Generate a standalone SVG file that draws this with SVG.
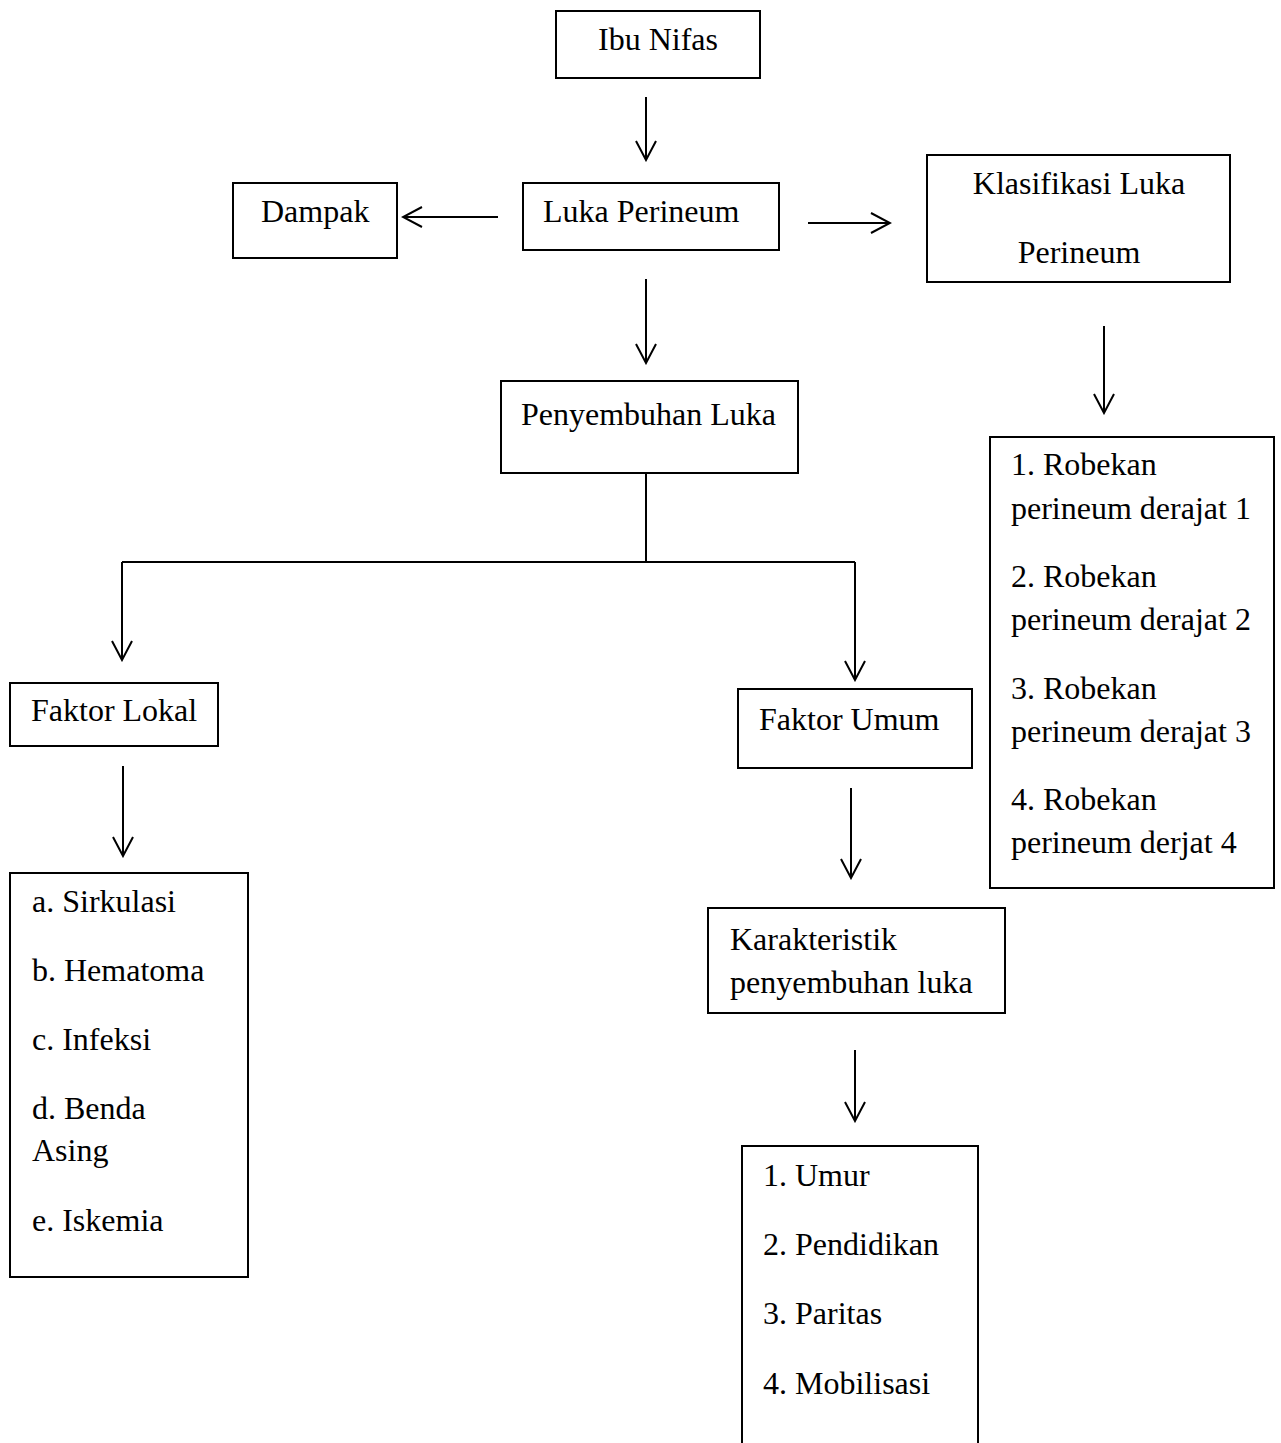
<svg xmlns="http://www.w3.org/2000/svg" width="1281" height="1443" viewBox="0 0 1281 1443">
<style>
.box{fill:#fff;stroke:#000;stroke-width:2}
.t{font-family:"Liberation Serif","Times New Roman",serif;font-size:32px;fill:#000}
.c{stroke:#000;stroke-width:2;fill:none}
</style>
<defs>
<marker id="ah" viewBox="0 0 22 22" refX="20" refY="11" markerWidth="22" markerHeight="22" markerUnits="userSpaceOnUse" orient="auto">
<path d="M1,1 L20,11 L1,21" fill="none" stroke="#000" stroke-width="2"/>
</marker>
</defs>
<rect width="1281" height="1443" fill="#fff"/>
<g id="connectors">
<line class="c" x1="646" y1="97" x2="646" y2="160" marker-end="url(#ah)"/>
<line class="c" x1="498" y1="217" x2="403" y2="217" marker-end="url(#ah)"/>
<line class="c" x1="808" y1="223" x2="890" y2="223" marker-end="url(#ah)"/>
<line class="c" x1="1104" y1="326" x2="1104" y2="413" marker-end="url(#ah)"/>
<line class="c" x1="646" y1="279" x2="646" y2="363" marker-end="url(#ah)"/>
<polyline class="c" points="646,473 646,562"/>
<polyline class="c" points="122,562 855,562"/>
<line class="c" x1="122" y1="562" x2="122" y2="660" marker-end="url(#ah)"/>
<line class="c" x1="855" y1="562" x2="855" y2="680" marker-end="url(#ah)"/>
<line class="c" x1="123" y1="766" x2="123" y2="856" marker-end="url(#ah)"/>
<line class="c" x1="851" y1="788" x2="851" y2="878" marker-end="url(#ah)"/>
<line class="c" x1="855" y1="1050" x2="855" y2="1121" marker-end="url(#ah)"/>
</g>
<g id="ibu-nifas"><rect class="box" x="556" y="11" width="204" height="67"/><text class="t" x="658" y="50" text-anchor="middle">Ibu Nifas</text></g>
<g id="luka-perineum"><rect class="box" x="523" y="183" width="256" height="67"/><text class="t" x="543" y="222">Luka Perineum</text></g>
<g id="dampak"><rect class="box" x="233" y="183" width="164" height="75"/><text class="t" x="261" y="222">Dampak</text></g>
<g id="klasifikasi"><rect class="box" x="927" y="155" width="303" height="127"/><text class="t" x="1079" y="194" text-anchor="middle">Klasifikasi Luka</text><text class="t" x="1079" y="263" text-anchor="middle">Perineum</text></g>
<g id="robekan"><rect class="box" x="990" y="437" width="284" height="451"/>
<text class="t" x="1011" y="475">1. Robekan</text><text class="t" x="1011" y="519">perineum derajat 1</text>
<text class="t" x="1011" y="587">2. Robekan</text><text class="t" x="1011" y="630">perineum derajat 2</text>
<text class="t" x="1011" y="699">3. Robekan</text><text class="t" x="1011" y="742">perineum derajat 3</text>
<text class="t" x="1011" y="810">4. Robekan</text><text class="t" x="1011" y="853">perineum derjat 4</text></g>
<g id="penyembuhan"><rect class="box" x="501" y="381" width="297" height="92"/><text class="t" x="521" y="425">Penyembuhan Luka</text></g>
<g id="faktor-lokal"><rect class="box" x="10" y="683" width="208" height="63"/><text class="t" x="31" y="721">Faktor Lokal</text></g>
<g id="lokal-list"><rect class="box" x="10" y="873" width="238" height="404"/>
<text class="t" x="32" y="912">a. Sirkulasi</text><text class="t" x="32" y="981">b. Hematoma</text><text class="t" x="32" y="1050">c. Infeksi</text><text class="t" x="32" y="1119">d. Benda</text><text class="t" x="32" y="1161">Asing</text><text class="t" x="32" y="1231">e. Iskemia</text></g>
<g id="faktor-umum"><rect class="box" x="738" y="689" width="234" height="79"/><text class="t" x="759" y="730">Faktor Umum</text></g>
<g id="karakteristik"><rect class="box" x="708" y="908" width="297" height="105"/><text class="t" x="730" y="950">Karakteristik</text><text class="t" x="730" y="993">penyembuhan luka</text></g>
<g id="umum-list"><rect class="box" x="742" y="1146" width="236" height="320"/>
<text class="t" x="763" y="1186">1. Umur</text><text class="t" x="763" y="1255">2. Pendidikan</text><text class="t" x="763" y="1324">3. Paritas</text><text class="t" x="763" y="1394">4. Mobilisasi</text></g>
</svg>
